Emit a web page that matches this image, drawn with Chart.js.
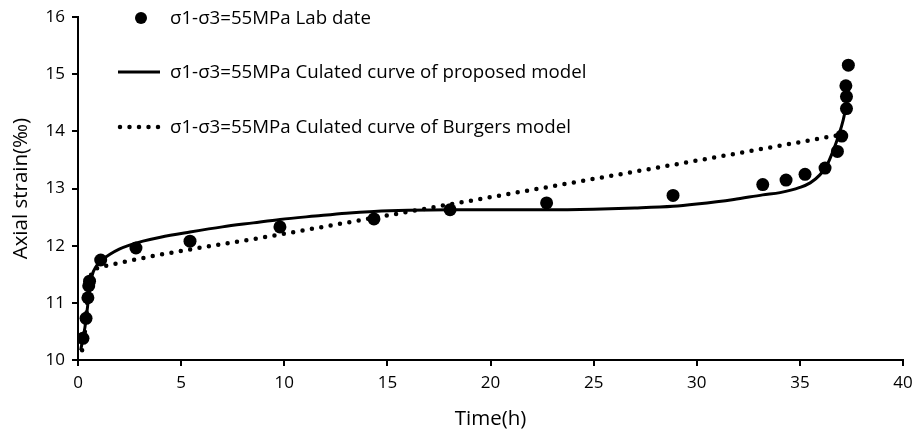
<!DOCTYPE html>
<html>
<head>
<meta charset="utf-8">
<script src="https://cdn.jsdelivr.net/npm/chart.js@4.4.1/dist/chart.umd.min.js"></script>
<style>
  html, body { margin: 0; padding: 0; background: #fff; }
  #wrap { width: 921px; height: 431px; }
</style>
</head>
<body>
<div id="wrap"><canvas id="c" width="921" height="431"></canvas></div>
<script>
// Measured creep test points (σ1-σ3 = 55 MPa)
const labTime   = [0.24, 0.39, 0.48, 0.52, 0.56, 1.10, 2.81, 5.43, 9.79, 14.35, 18.04, 22.72, 28.85, 33.20, 34.33, 35.25, 36.22, 36.82, 37.03, 37.26, 37.26, 37.23, 37.35];
const labStrain = [10.38, 10.73, 11.09, 11.30, 11.38, 11.75, 11.96, 12.08, 12.33, 12.47, 12.63, 12.75, 12.88, 13.07, 13.15, 13.25, 13.36, 13.65, 13.92, 14.40, 14.61, 14.80, 15.16];

// Fitted curve, proposed model
const propTime   = [0.13, 0.34, 0.50, 0.66, 0.90, 1.20, 1.55, 2.00, 2.50, 3.15, 4.00, 5.43, 7.00, 8.50, 9.80, 11.50, 13.00, 14.35, 16.00, 18.00, 20.00, 22.70, 25.00, 27.00, 28.85, 30.00, 31.80, 33.20, 34.04, 35.00, 35.50, 35.97, 36.30, 36.60, 36.90, 37.10, 37.25];
const propStrain = [10.17, 10.58, 11.04, 11.45, 11.65, 11.76, 11.85, 11.94, 12.01, 12.08, 12.15, 12.24, 12.33, 12.40, 12.46, 12.52, 12.57, 12.60, 12.62, 12.63, 12.63, 12.63, 12.64, 12.66, 12.69, 12.73, 12.81, 12.89, 12.93, 13.02, 13.10, 13.24, 13.40, 13.65, 13.95, 14.20, 14.45];

// Fitted curve, Burgers model
const burgTime   = [0.20, 0.35, 0.50, 0.66, 0.90, 1.50, 10.00, 20.00, 30.00, 37.10];
const burgStrain = [10.17, 10.55, 11.20, 11.52, 11.60, 11.66, 12.21, 12.85, 13.49, 13.95];

// Axis ticks
const xTicks = [0, 5, 10, 15, 20, 25, 30, 35, 40];
const yTicks = [10, 11, 12, 13, 14, 15, 16];

const seriesLabels = [
  'σ1-σ3=55MPa Lab date',
  'σ1-σ3=55MPa Culated curve of proposed model',
  'σ1-σ3=55MPa Culated curve of Burgers model'
];

const toXY = (xs, ys) => xs.map((x, i) => ({ x: x, y: ys[i] }));

const FAMILY = '"Open Sans", "Liberation Sans", sans-serif';
const LABEL_FONT = '18.7px ' + FAMILY;

// Legend drawn as a stacked list in the upper-left of the plot
const stackedLegend = {
  id: 'stackedLegend',
  afterDraw(chart) {
    const ctx = chart.ctx;
    const rows = [18, 72, 127];
    const markX = 141, lineL = 118, lineR = 160, textX = 170;
    ctx.save();
    chart.data.datasets.forEach((ds, i) => {
      const y = rows[i];
      ctx.fillStyle = '#000';
      ctx.strokeStyle = '#000';
      if (ds.showLine === false) {
        ctx.beginPath();
        ctx.arc(markX, y, 6, 0, Math.PI * 2);
        ctx.fill();
      } else {
        ctx.beginPath();
        ctx.lineWidth = ds.borderWidth;
        ctx.lineCap = ds.borderCapStyle || 'butt';
        ctx.setLineDash(ds.borderDash || []);
        ctx.moveTo(lineL + (ds.borderDash ? 2 : 0), y);
        ctx.lineTo(lineR, y);
        ctx.stroke();
        ctx.setLineDash([]);
      }
      ctx.font = LABEL_FONT;
      ctx.textAlign = 'left';
      ctx.textBaseline = 'middle';
      ctx.fillText(ds.label, textX, y + 1);
    });
    ctx.restore();
  }
};

new Chart(document.getElementById('c'), {
  type: 'scatter',
  data: {
    datasets: [
      {
        label: seriesLabels[0],
        data: toXY(labTime, labStrain),
        showLine: false,
        pointRadius: 6.5,
        pointHoverRadius: 6.5,
        pointBackgroundColor: '#000',
        pointBorderColor: '#000',
        pointBorderWidth: 0,
        order: 0
      },
      {
        label: seriesLabels[1],
        data: toXY(propTime, propStrain),
        showLine: true,
        borderColor: '#000',
        borderWidth: 3,
        pointRadius: 0,
        cubicInterpolationMode: 'monotone',
        order: 1
      },
      {
        label: seriesLabels[2],
        data: toXY(burgTime, burgStrain),
        showLine: true,
        borderColor: '#000',
        borderWidth: 4.5,
        borderDash: [0, 9.5],
        borderCapStyle: 'round',
        pointRadius: 0,
        cubicInterpolationMode: 'monotone',
        order: 2
      }
    ]
  },
  options: {
    responsive: false,
    animation: false,
    layout: { padding: { top: 14, right: 18, left: 0, bottom: 0 } },
    plugins: {
      legend: { display: false },
      tooltip: { enabled: false }
    },
    scales: {
      x: {
        type: 'linear',
        min: 0,
        max: 40,
        afterBuildTicks: (s) => { s.ticks = xTicks.map(v => ({ value: v })); },
        afterFit: (s) => { s.height = 71; },
        border: { display: true, color: '#000', width: 2 },
        grid: { display: true, drawOnChartArea: false, drawTicks: true, tickLength: 6, color: '#000', lineWidth: 2 },
        ticks: { color: '#000', font: { family: FAMILY, size: 17 }, padding: 7, maxRotation: 0 },
        title: {
          display: true,
          text: 'Time(h)',
          color: '#000',
          font: { family: FAMILY, size: 20.5 },
          padding: { top: 0, bottom: 0 }
        }
      },
      y: {
        type: 'linear',
        min: 10,
        max: 16,
        afterBuildTicks: (s) => { s.ticks = yTicks.map(v => ({ value: v })); },
        afterFit: (s) => { s.width = 78; },
        border: { display: true, color: '#000', width: 2 },
        grid: { display: true, drawOnChartArea: false, drawTicks: true, tickLength: 6, color: '#000', lineWidth: 2 },
        ticks: { color: '#000', font: { family: FAMILY, size: 17 }, padding: 7 },
        title: {
          display: true,
          text: 'Axial strain(‰)',
          color: '#000',
          font: { family: FAMILY, size: 20.5 },
          padding: { top: 9, bottom: 0 }
        }
      }
    }
  },
  plugins: [stackedLegend, {
    id: 'whiteBg',
    beforeDraw(chart) {
      const ctx = chart.ctx;
      ctx.save();
      ctx.fillStyle = '#fff';
      ctx.fillRect(0, 0, chart.width, chart.height);
      ctx.restore();
    }
  }]
});
</script>
</body>
</html>
